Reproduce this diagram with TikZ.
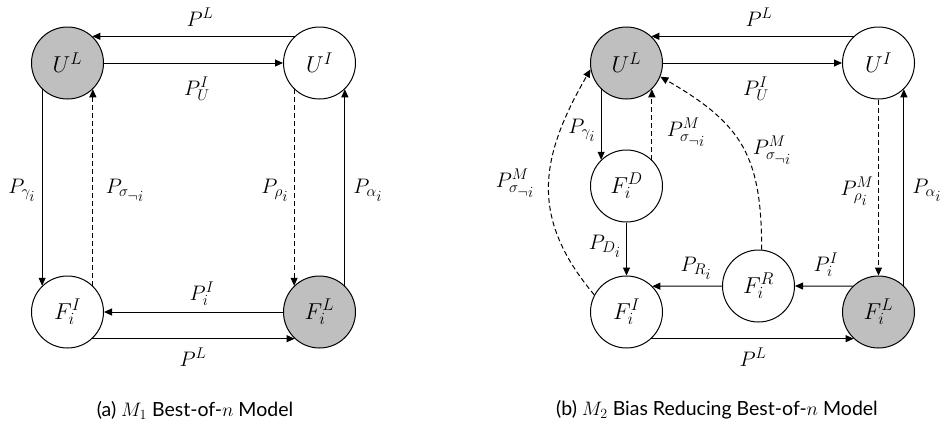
\RequirePackage{fix-cm}
\documentclass[tikz,border=0pt]{standalone}
\usepackage{fontspec}
\newfontfamily\capfont{Lato}
\DeclareMathSizes{21}{21}{15.5}{13}
\DeclareMathSizes{23}{23}{17}{14}
\DeclareMathSizes{19.5}{19.5}{14}{11}
\newcommand\ssi[1]{{\scriptstyle #1}}
\usetikzlibrary{arrows.meta}
\begin{document}
\begin{tikzpicture}[x=1pt,y=-1pt,
  st/.style={circle, draw, line width=1pt, minimum size=72pt, inner sep=0pt, font=\fontsize{23}{28}\selectfont},
  gr/.style={st, fill=black!25},
  arr/.style={-{Triangle[length=8pt,width=7pt]}, line width=1pt},
  dsh/.style={arr, dash pattern=on 5pt off 3pt},
  lbl/.style={font=\fontsize{21}{24}\selectfont, inner sep=0pt},
  captext/.style={font=\fontsize{19.5}{23}\capfont, inner sep=0pt}]
\useasboundingbox (0,0) rectangle (950,429);
% ---------- (a) ----------
\node[gr] (UL1) at (67.5,63) {$U^{L}$};
\node[st] (UI1) at (319.5,63) {$U^{I}$};
\node[st] (FI1) at (67.5,312) {$F_i^{I}$};
\node[gr] (FL1) at (319.5,312) {$F_i^{L}$};
\draw[arr] (UI1.133) -- (UL1.47);
\draw[arr] (UL1.east) -- (UI1.west);
\draw[arr] (UL1.-134) -- (FI1.134);
\draw[dsh] (FI1.46) -- (UL1.-46);
\draw[dsh] (UI1.-134) -- (FL1.134);
\draw[arr] (FL1.46) -- (UI1.-46);
\draw[arr] (FL1.west) -- (FI1.east);
\draw[arr] (FI1.-47) -- (FL1.-133);
\node[lbl] (a1) at (200,17) {$P^{L}$};
\node[lbl] (a2) at (197,89) {$P_U^{I}$};
\node[lbl] (a3) at (22,190) {$P_{\gamma_{\ssi{i}}}$};
\node[lbl] (a4) at (125,190) {$P_{\sigma_{\ssi{\neg i}}}$};
\node[lbl] (a5) at (275,190) {$P_{\rho_{\ssi{i}}}$};
\node[lbl] (a6) at (368,190) {$P_{\alpha_{\ssi{i}}}$};
\node[lbl] (a7) at (202,294) {$P_i^{I}$};
\node[lbl] (a8) at (193,357) {$P^{L}$};
\node[captext] (ca) at (195,410) {(a) $M_1$ Best-of-$n$ Model};
% ---------- (b) ----------
\node[gr] (UL2) at (626.5,63) {$U^{L}$};
\node[st] (UI2) at (878.5,63) {$U^{I}$};
\node[st] (FD2) at (626.5,186) {$F_i^{D}$};
\node[st] (FI2) at (626.5,312) {$F_i^{I}$};
\node[st] (FR2) at (758.5,286) {$F_i^{R}$};
\node[gr] (FL2) at (878.5,312) {$F_i^{L}$};
\draw[arr] (UI2.133) -- (UL2.47);
\draw[arr] (UL2.east) -- (UI2.west);
\draw[arr] (UL2.-134) -- (FD2.134);
\draw[dsh] (FD2.46) -- (UL2.-46);
\draw[arr] (FD2.south) -- (FI2.north);
\draw[arr] (FR2.west) -- (FI2.45);
\draw[arr] (FL2.135) -- (FR2.east);
\draw[arr] (FI2.-47) -- (FL2.-133);
\draw[dsh] (UI2.south) -- (FL2.north);
\draw[arr] (FL2.46) -- (UI2.-46);
\draw[dsh] (FI2.152) to[out=130,in=240,looseness=1.15] (UL2.190);
\draw[dsh] (FR2.85) to[out=90,in=-30,looseness=1.2] (UL2.-22);
\node[lbl] (b1) at (759,17) {$P^{L}$};
\node[lbl] (b2) at (756,89) {$P_U^{I}$};
\node[lbl] (b3) at (582,130) {$P_{\gamma_{\ssi{i}}}$};
\node[lbl] (b4) at (686,132) {$P^{M}_{\sigma_{\ssi{\neg i}}}$};
\node[lbl] (b5) at (772,150) {$P^{M}_{\sigma_{\ssi{\neg i}}}$};
\node[lbl] (b6) at (515,183) {$P^{M}_{\sigma_{\ssi{\neg i}}}$};
\node[lbl] (b7) at (857,191) {$P^{M}_{\rho_{\ssi{i}}}$};
\node[lbl] (b8) at (927,190) {$P_{\alpha_{\ssi{i}}}$};
\node[lbl] (b9) at (605,246) {$P_{D_{\ssi{i}}}$};
\node[lbl] (b10) at (696,268) {$P_{R_{\ssi{i}}}$};
\node[lbl] (b11) at (826,265) {$P_i^{I}$};
\node[lbl] (b12) at (753,357) {$P^{L}$};
\node[captext] (cb) at (717,410) {(b) $M_2$ Bias Reducing Best-of-$n$ Model};
\end{tikzpicture}
\end{document}
